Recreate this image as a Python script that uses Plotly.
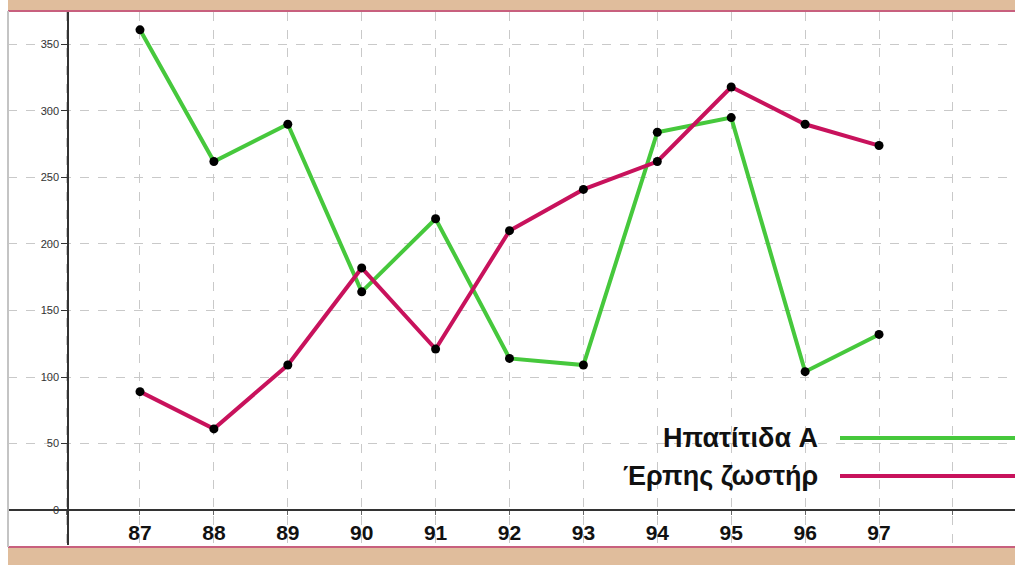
import plotly.graph_objects as go

# Years (19xx) and yearly case counts
years = [87, 88, 89, 90, 91, 92, 93, 94, 95, 96, 97]
hepatitis_a = [361, 262, 290, 164, 219, 114, 109, 284, 295, 104, 132]
herpes_zoster = [89, 61, 109, 182, 121, 210, 241, 262, 318, 290, 274]
series_names = ["Ηπατίτιδα A", "Έρπης ζωστήρ"]
series_colors = ["#46c83c", "#c8125c"]
y_ticks = [0, 50, 100, 150, 200, 250, 300, 350]
grid_years = list(range(86, 99))

W, H = 1015, 565
ML, MR, MT, MB = 8, 0, 12, 20
PW, PH = W - ML - MR, H - MT - MB


def px_x(p):
    return (p - ML) / PW


def px_y(p):
    return (H - MB - p) / PH


FONT = "Liberation Sans, Arial, sans-serif"

fig = go.Figure()
for name, vals, col in zip(series_names, [hepatitis_a, herpes_zoster], series_colors):
    fig.add_trace(go.Scatter(
        x=years, y=vals, name=name, mode="lines",
        line=dict(color=col, width=4), showlegend=False,
    ))
for vals in [hepatitis_a, herpes_zoster]:
    fig.add_trace(go.Scatter(
        x=years, y=vals, mode="markers",
        marker=dict(color="black", size=9), showlegend=False, hoverinfo="skip",
    ))

shapes = [
    # top and bottom frame bands
    dict(type="rect", xref="paper", yref="paper", x0=px_x(8), x1=px_x(W + 5),
         y0=px_y(10.5), y1=px_y(-5), fillcolor="#e0bd9c", line_width=0, layer="above"),
    dict(type="line", xref="paper", yref="paper", x0=px_x(8), x1=px_x(W + 5),
         y0=px_y(11), y1=px_y(11), line=dict(color="#c8607e", width=2), layer="above"),
    dict(type="rect", xref="paper", yref="paper", x0=px_x(8), x1=px_x(W + 5),
         y0=px_y(547.5), y1=px_y(H + 5), fillcolor="#e0bd9c", line_width=0, layer="above"),
    dict(type="line", xref="paper", yref="paper", x0=px_x(8), x1=px_x(W + 5),
         y0=px_y(547), y1=px_y(547), line=dict(color="#c8607e", width=2), layer="above"),
    # left border
    dict(type="line", xref="paper", yref="paper", x0=px_x(8), x1=px_x(8),
         y0=px_y(11), y1=px_y(547), line=dict(color="#c4c4c4", width=2), layer="above"),
]

annotations = []
legend_rows = [438, 476]
for name, col, yp in zip(series_names, series_colors, legend_rows):
    annotations.append(dict(
        xref="paper", yref="paper", x=px_x(820), y=px_y(yp), xanchor="right", yanchor="middle",
        text=f"<b>{name}</b>", showarrow=False,
        font=dict(family=FONT, size=27, color="#111"),
    ))
    shapes.append(dict(type="line", xref="paper", yref="paper", x0=px_x(840), x1=px_x(W + 5),
                       y0=px_y(yp), y1=px_y(yp), line=dict(color=col, width=4)))

fig.update_layout(
    width=W, height=H,
    margin=dict(l=ML, r=MR, t=MT, b=MB),
    paper_bgcolor="white", plot_bgcolor="white",
    shapes=shapes, annotations=annotations,
    xaxis=dict(
        range=[85.214, 98.84], tickvals=grid_years,
        ticktext=["" if y < 87 or y > 97 else f"<b>{y}</b>" for y in grid_years],
        tickfont=dict(family=FONT, size=21, color="#111"),
        showgrid=True, gridcolor="#c9c9c9", griddash="dash", gridwidth=1,
        zeroline=False, showline=False,
        anchor="free", position=px_y(510),
        ticks="outside", ticklen=4, tickcolor="#666",
    ),
    yaxis=dict(
        range=[-26.3, 374.4], tickvals=y_ticks,
        tickfont=dict(family=FONT, size=11, color="#333"),
        showgrid=True, gridcolor="#c9c9c9", griddash="dash", gridwidth=1,
        zeroline=True, zerolinecolor="#333", zerolinewidth=1.5,
        showline=True, linecolor="#333", linewidth=1.5,
        anchor="free", position=px_x(68),
        ticks="outside", ticklen=6, tickcolor="#333",
    ),
)

fig.write_html("out.html")
